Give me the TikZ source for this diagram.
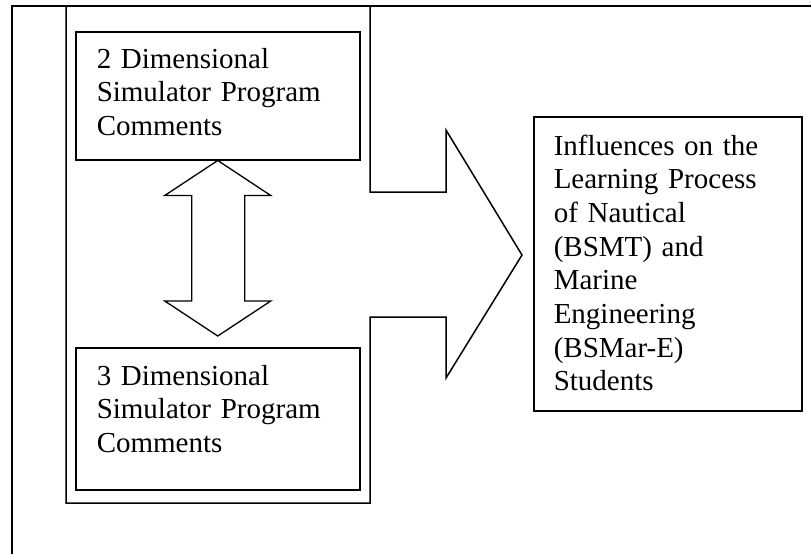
\documentclass[tikz,border=0pt]{standalone}
\usepackage{fontspec}
\setmainfont{Liberation Serif}
\usetikzlibrary{calc}
\begin{document}
\begin{tikzpicture}[x=1pt,y=-1pt,line width=1.5pt,line join=miter,
  frame/.style={draw,line width=1.5pt,inner sep=0pt,anchor=north west},
  txt/.style={font=\fontsize{29}{33.7}\selectfont,text width=250pt,align=left,inner sep=0pt,anchor=base west},
  dblarrow/.style={draw,line width=1.3pt}]
\useasboundingbox (0,0) rectangle (811,554);
% outer frame
\draw (12,554) |- (811,6);
% big right-pointing frame arrow
\draw (66,503) -- (66,6) -- (370,6) -- (370,192) -- (446,192) -- (446,130)
      -- (522,255) -- (446,378) -- (446,317) -- (370,317) -- (370,503) -- cycle;
% boxes
\node[frame,minimum width=284,minimum height=128] (two) at (75,31) {};
\node[frame,minimum width=284,minimum height=142] (three) at (75,347) {};
\node[frame,minimum width=268,minimum height=294] (infl) at (533,116) {};
% texts
\node[txt] (twot) at (96,68) {2 Dimensional\\Simulator Program\\Comments};
\node[txt] (threet) at (96,385) {3 Dimensional\\Simulator Program\\Comments};
\node[txt] (inflt) at (553,155) {Influences on the\\Learning Process\\of Nautical\\(BSMT) and\\Marine\\Engineering\\(BSMar-E)\\Students};
% double arrow between the two boxes
\coordinate (ta) at (two.south);
\coordinate (tb) at ($(three.north)+(0,-11)$);
\draw[dblarrow] (ta) -- ($(ta)+(53,35)$) -- ($(ta)+(27,35)$) -- ($(tb)+(27,-35)$)
  -- ($(tb)+(53,-35)$) -- (tb) -- ($(tb)+(-53,-35)$) -- ($(tb)+(-26,-35)$)
  -- ($(ta)+(-26,35)$) -- ($(ta)+(-53,35)$) -- cycle;
\end{tikzpicture}
\end{document}
